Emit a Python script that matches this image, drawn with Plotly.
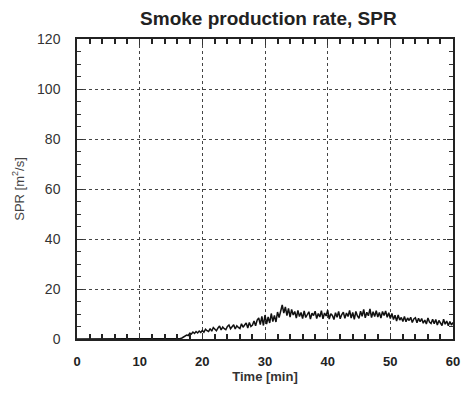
import plotly.graph_objects as go

# Time axis in minutes, sampled every 0.25 min
time_min = [i * 0.25 for i in range(241)]

# Smoke production rate [m2/s]; zero until ignition spread near 16 min
spr_before = [0.0] * 64
spr_16_20 = [0.0, 0.0, 0.2, 0.4, 0.8, 1.1, 1.6, 1.4, 2.3, 2.0, 2.8, 2.2, 3.0, 2.4, 3.2, 2.6]
spr_20_25 = [3.4, 2.7, 3.9, 3.3, 3.0, 4.2, 3.1, 4.6, 3.8, 3.3, 4.4, 5.2, 3.6, 4.8, 4.1, 3.7, 5.0, 5.6, 4.1, 5.1]
spr_25_30 = [5.7, 4.0, 5.3, 4.6, 4.2, 6.1, 4.7, 5.6, 6.4, 4.4, 6.6, 5.0, 5.6, 7.2, 5.3, 7.6, 8.4, 5.8, 9.0, 5.4]
spr_30_35 = [9.6, 6.0, 8.8, 6.4, 10.2, 7.0, 9.4, 6.8, 10.8, 8.6, 11.6, 13.6, 10.4, 12.8, 9.4, 12.2, 8.8, 11.8, 9.6, 11.0]
spr_35_40 = [8.4, 11.4, 9.0, 10.6, 8.2, 11.2, 8.6, 9.8, 10.9, 8.0, 10.3, 9.4, 11.1, 8.2, 10.2, 8.8, 11.3, 8.1, 10.4, 9.2]
spr_40_45 = [11.5, 8.0, 10.1, 9.4, 7.8, 10.5, 8.7, 11.0, 8.1, 9.8, 10.7, 8.3, 10.4, 9.0, 11.4, 8.4, 10.6, 7.9, 11.0, 9.2]
spr_45_50 = [8.3, 11.1, 9.1, 11.8, 8.5, 10.7, 9.3, 12.0, 8.6, 10.9, 9.0, 11.3, 8.8, 10.6, 8.4, 11.0, 9.4, 11.2, 8.7, 10.5]
spr_50_55 = [8.2, 10.2, 7.8, 9.5, 7.2, 9.6, 7.6, 8.6, 7.0, 9.0, 6.9, 8.4, 7.4, 8.7, 6.6, 8.0, 8.5, 6.5, 8.3, 6.9]
spr_55_60 = [8.2, 6.3, 7.6, 6.0, 8.4, 6.8, 6.2, 7.9, 6.1, 7.8, 5.6, 7.4, 6.3, 5.4, 7.9, 5.9, 7.2, 5.3, 7.0, 5.6, 6.6]

spr = (spr_before + spr_16_20 + spr_20_25 + spr_25_30 + spr_30_35
       + spr_35_40 + spr_40_45 + spr_45_50 + spr_50_55 + spr_55_60)

X_RANGE = [0, 60]
Y_RANGE = [0, 120]

fig = go.Figure()
# invisible copy on the top/right axes so their ticks get drawn
fig.add_trace(go.Scatter(
    x=time_min, y=spr, mode="lines", xaxis="x2", yaxis="y2",
    line=dict(color="rgba(0,0,0,0)", width=0), hoverinfo="skip",
    showlegend=False,
))
fig.add_trace(go.Scatter(
    x=time_min, y=spr, mode="lines",
    line=dict(color="#111111", width=1.5),
    showlegend=False,
))

tick_style = dict(
    showline=True, linecolor="#222222", linewidth=1.5,
    ticks="inside", ticklen=6, tickwidth=1.4, tickcolor="#333333",
    zeroline=False, tickmode="linear", tick0=0,
)
x_minor = dict(tickmode="linear", dtick=2, tick0=0, ticks="inside", ticklen=5,
               tickwidth=1.6, tickcolor="#222222", showgrid=False)
y_minor = dict(tickmode="linear", dtick=5, tick0=0, ticks="inside", ticklen=4,
               tickwidth=1.4, tickcolor="#333333", showgrid=False)

fig.update_layout(
    xaxis=dict(
        **tick_style, range=X_RANGE, dtick=10, minor=x_minor,
        showgrid=True, gridcolor="#444444", gridwidth=1.2, griddash="dot",
        tickfont=dict(family="Liberation Sans, Arial", size=13, color="#222222", weight="bold"),
        ticklabelstandoff=10,
        title=dict(text="Time [min]", standoff=4,
                   font=dict(family="Liberation Sans, Arial", size=13, color="#333333",
                             weight="bold")),
    ),
    yaxis=dict(
        **tick_style, range=Y_RANGE, dtick=20, minor=y_minor,
        showgrid=True, gridcolor="#444444", gridwidth=1.2, griddash="dot",
        tickfont=dict(family="Liberation Sans, Arial", size=14, color="#333333"),
        ticklabelstandoff=12,
        title=dict(text="SPR [m<sup>2</sup>/s]", standoff=10,
                   font=dict(family="Liberation Sans, Arial", size=13, color="#444444")),
    ),
    xaxis2=dict(
        **tick_style, range=X_RANGE, dtick=10, minor=x_minor,
        overlaying="x", side="top", showticklabels=False, showgrid=False,
    ),
    yaxis2=dict(
        **tick_style, range=Y_RANGE, dtick=20, minor=y_minor,
        overlaying="y", side="right", showticklabels=False, showgrid=False,
    ),
    width=470, height=397,
    margin=dict(l=77, r=10, t=39, b=58),
    paper_bgcolor="white", plot_bgcolor="white",
    title=dict(text="<b>Smoke production rate, SPR</b>", x=0.571, xanchor="center",
               y=0.955, yanchor="middle",
               font=dict(family="Liberation Sans, Arial", size=19, color="#222222")),
)

fig.write_html("out.html")
